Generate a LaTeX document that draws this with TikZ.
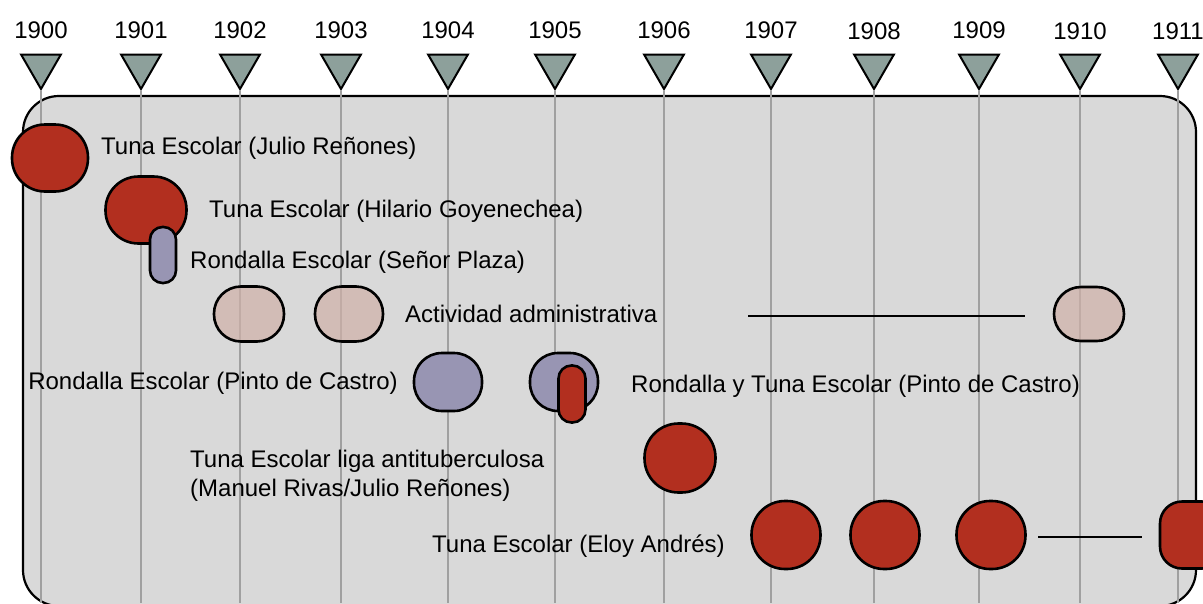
\documentclass[tikz,border=0pt]{standalone}
\usepackage{fontspec}
\setmainfont{Liberation Sans}
\usetikzlibrary{shapes.geometric}
\definecolor{tunared}{HTML}{B22F1F}
\definecolor{rondpurple}{HTML}{9895B3}
\definecolor{admpink}{RGB}{208,176,168}
\definecolor{markgray}{HTML}{8DA09B}
\definecolor{boxgray}{HTML}{D9D9D9}
\definecolor{linegray}{HTML}{A0A0A0}

\begin{document}
\begin{tikzpicture}[x=1pt,y=-1pt, every node/.style={font=\fontsize{24}{29}\selectfont},
  tri/.style={draw,line width=2pt,fill=markgray,regular polygon,regular polygon sides=3,shape border rotate=180,minimum size=46pt,inner sep=0pt},
  yline/.style={draw=linegray,line width=2.5pt},
  evt/.style={draw,line width=2.6pt,inner sep=0pt,rounded corners=#1},
  evt/.default=33pt,
  txt/.style={anchor=west,inner sep=0pt},
  span/.style={line width=2.4pt}]
\useasboundingbox (0,0) rectangle (1203,603);
\draw[line width=2.2pt,fill=boxgray,rounded corners=36pt] (23,96) rectangle (1196,606);

% years
\node (n0) at (41,30) {1900}; \node[tri] (t0) at (41,66) {};
\node (n1) at (141,30) {1901}; \node[tri] (t1) at (141,66) {};
\node (n2) at (240,30) {1902}; \node[tri] (t2) at (240,66) {};
\node (n3) at (341,30) {1903}; \node[tri] (t3) at (341,66) {};
\node (n4) at (448,30) {1904}; \node[tri] (t4) at (448,66) {};
\node (n5) at (555,30) {1905}; \node[tri] (t5) at (555,66) {};
\node (n6) at (664,30) {1906}; \node[tri] (t6) at (664,66) {};
\node (n7) at (771,30) {1907}; \node[tri] (t7) at (771,66) {};
\node (n8) at (874,31) {1908}; \node[tri] (t8) at (874,66) {};
\node (n9) at (979,30) {1909}; \node[tri] (t9) at (979,66) {};
\node (n10) at (1080,31) {1910}; \node[tri] (t10) at (1080,66) {};
\node (n11) at (1178,31) {1911}; \node[tri] (t11) at (1178,66) {};
\draw[yline] (t0.south) -- (t0.south |- 0,603);
\draw[yline] (t1.south) -- (t1.south |- 0,603);
\draw[yline] (t2.south) -- (t2.south |- 0,603);
\draw[yline] (t3.south) -- (t3.south |- 0,603);
\draw[yline] (t4.south) -- (t4.south |- 0,603);
\draw[yline] (t5.south) -- (t5.south |- 0,603);
\draw[yline] (t6.south) -- (t6.south |- 0,603);
\draw[yline] (t7.south) -- (t7.south |- 0,603);
\draw[yline] (t8.south) -- (t8.south |- 0,603);
\draw[yline] (t9.south) -- (t9.south |- 0,603);
\draw[yline] (t10.south) -- (t10.south |- 0,603);
\draw[yline] (t11.south) -- (t11.south |- 0,603);

% events
\node[evt,fill=tunared,minimum width=76pt,minimum height=67pt] (e0) at (50,158) {};
\node[txt] (l0) at (101,148) {Tuna Escolar (Julio Reñones)};
\node[evt,fill=tunared,minimum width=81pt,minimum height=67pt] (e1) at (146,210) {};
\node[txt] (l1) at (209,211) {Tuna Escolar (Hilario Goyenechea)};
\node[evt=12.5pt,fill=rondpurple,minimum width=26pt,minimum height=56pt] (e2) at (163,255) {};
\node[txt] (l2) at (190,262) {Rondalla Escolar (Señor Plaza)};

\node[evt=27pt,fill=admpink,fill opacity=0.7,draw opacity=1,minimum width=70pt,minimum height=55pt] (e3) at (249,314) {};
\node[evt=27pt,fill=admpink,fill opacity=0.7,draw opacity=1,minimum width=68pt,minimum height=55pt] (e4) at (349,314) {};
\node[txt] (l3) at (405,314) {Actividad administrativa};
\node[evt=27pt,fill=admpink,fill opacity=0.7,draw opacity=1,minimum width=70pt,minimum height=54pt] (e5) at (1089,314) {};
\coordinate (a1) at (748,316);
\coordinate (a2) at (1025,316);
\draw[span] (a1) -- (a2);

\node[evt=28pt,fill=rondpurple,minimum width=68pt,minimum height=58pt] (e6) at (448,382) {};
\node[txt,anchor=east] (l4) at (398,383) {Rondalla Escolar (Pinto de Castro)};
\node[evt=28pt,fill=rondpurple,minimum width=68pt,minimum height=58pt] (e7) at (564,382) {};
\node[evt=13pt,fill=tunared,minimum width=27pt,minimum height=57pt] (e8) at (572,394) {};
\node[txt] (l5) at (631,386) {Rondalla y Tuna Escolar (Pinto de Castro)};

\node[evt=34pt,fill=tunared,minimum width=71pt,minimum height=69pt] (e9) at (680,458) {};
\node[txt,align=left] (l6) at (190,476) {Tuna Escolar liga antituberculosa\\(Manuel Rivas/Julio Reñones)};

\node[evt=33.5pt,fill=tunared,minimum width=69pt,minimum height=68pt] (e10) at (786,535) {};
\node[evt=33.5pt,fill=tunared,minimum width=69pt,minimum height=68pt] (e11) at (885,535) {};
\node[evt=33.5pt,fill=tunared,minimum width=69pt,minimum height=68pt] (e12) at (991,535) {};
\node[evt=22pt,fill=tunared,minimum width=64pt,minimum height=67pt] (e13) at (1192,535) {};
\node[txt] (l7) at (432,546) {Tuna Escolar (Eloy Andrés)};
\coordinate (b1) at (1038,537);
\coordinate (b2) at (1142,537);
\draw[span] (b1) -- (b2);
\end{tikzpicture}
\end{document}
